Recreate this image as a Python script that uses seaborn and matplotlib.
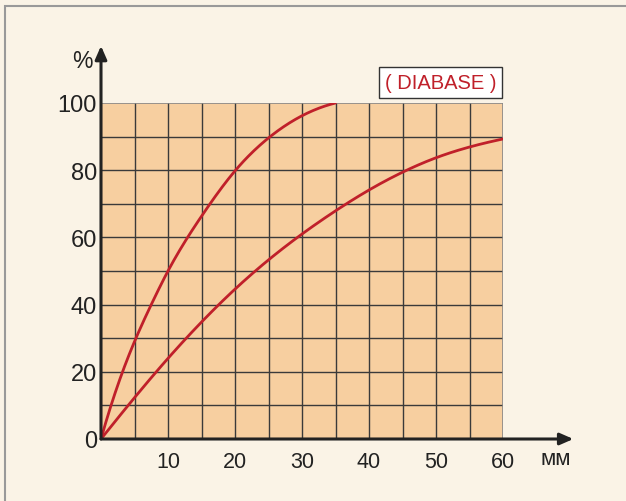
import matplotlib
matplotlib.use("Agg")
import matplotlib.pyplot as plt
import matplotlib.patches as mpatches
import numpy as np
import pandas as pd
import seaborn as sns
from scipy.interpolate import CubicSpline

# values (mm vs %)
fast_mm = [0, 2.5, 5, 7.5, 10, 15, 20, 25, 30, 35]
fast_pct = [0, 16, 29, 40, 50, 66.3, 79.8, 89.6, 96.2, 100]
slow_mm = [0, 5, 10, 15, 20, 25, 30, 35, 40, 45, 50, 55, 60]
slow_pct = [0, 12.3, 24, 34.8, 44.6, 53.3, 61, 67.9, 74.1, 79.4, 83.7, 86.9, 89.3]
x_ticks = [10, 20, 30, 40, 50, 60]
y_ticks = [0, 20, 40, 60, 80, 100]
label = "( DIABASE )"

bg = "#faf3e6"
grid_fill = "#f7cfa0"
red = "#c0202a"
ink = "#222222"

sns.set_style("white")
plt.rcParams["font.family"] = ["Liberation Sans", "DejaVu Sans"]

W, H = 626, 502
fig = plt.figure(figsize=(W / 100, H / 100), dpi=100, facecolor=bg)
ax = fig.add_axes([101 / W, (H - 440) / H, (503 - 101) / W, (440 - 104) / H])
ax.set_facecolor(grid_fill)
ax.set_xlim(0, 60)
ax.set_ylim(0, 100)

# grid
for gx in np.arange(5, 60, 5):
    ax.axvline(gx, color="#3a3a3a", lw=1.0, zorder=1)
for gy in np.arange(10, 100, 10):
    ax.axhline(gy, color="#3a3a3a", lw=1.0, zorder=1)
for s in ax.spines.values():
    s.set_visible(False)
ax.plot([0, 60, 60], [100, 100, 0], color="#888888", lw=1.2, zorder=1)

df = pd.concat([
    pd.DataFrame({"mm": fast_mm, "pct": fast_pct, "s": "fast"}),
    pd.DataFrame({"mm": slow_mm, "pct": slow_pct, "s": "slow"}),
])
for name, g in df.groupby("s"):
    xs = np.linspace(g["mm"].min(), g["mm"].max(), 200)
    ys = CubicSpline(g["mm"], g["pct"])(xs)
    sns.lineplot(x=xs, y=ys, ax=ax, color=red, lw=2.0, zorder=3, legend=False)

# ticks
ax.set_xticks(x_ticks)
ax.set_yticks(y_ticks)
ax.tick_params(length=0)
ax.tick_params(axis="x", labelsize=15.5, pad=9, colors=ink)
ax.tick_params(axis="y", labelsize=17, pad=3, colors=ink)
ax.set_xlabel("")
ax.set_ylabel("")

# arrow axes
ax.annotate("", xy=(70.5, 0), xytext=(0, 0), xycoords="data",
            arrowprops=dict(arrowstyle="-|>,head_length=0.8,head_width=0.35",
                            color=ink, lw=2.2, shrinkA=0, shrinkB=0),
            annotation_clip=False, zorder=5)
ax.annotate("", xy=(0, 117), xytext=(0, 0), xycoords="data",
            arrowprops=dict(arrowstyle="-|>,head_length=0.8,head_width=0.35",
                            color=ink, lw=2.2, shrinkA=0, shrinkB=0),
            annotation_clip=False, zorder=5)
ax.text(-1.3, 112.5, "%", fontsize=16.5, ha="right", va="center", color=ink)
ax.text(65.6, -5.8, "мм", fontsize=16, ha="left", va="center", color=ink)

ax.text(59.0, 106.2, label, fontsize=14.5, ha="right", va="center", color=red,
        bbox=dict(boxstyle="square,pad=0.3", fc="white", ec="#333333", lw=1.0))

fig.patches.append(mpatches.Rectangle((5 / W, -0.1), 1.2, (H - 7) / H + 0.1,
                                      transform=fig.transFigure, fill=False,
                                      ec="#999999", lw=1.5))

fig.savefig("out.png", dpi=100, facecolor=bg)
